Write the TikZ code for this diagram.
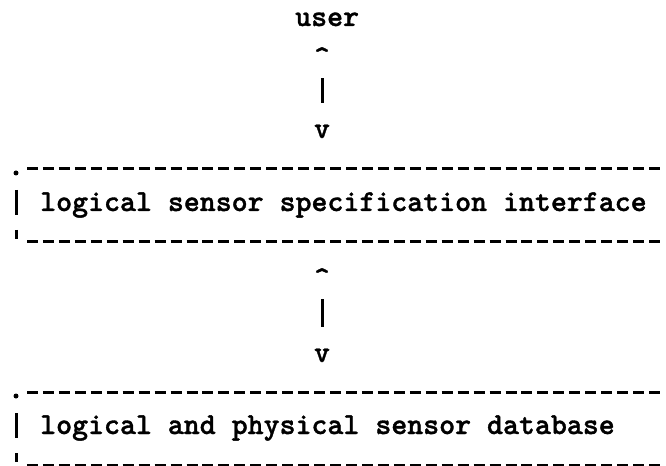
\documentclass[tikz,border=0pt]{standalone}
\usepackage{fontspec}
\usepackage{tikz}

\newfontfamily\typer{lmmonolt10-bold.otf}[FakeBold=1.2]

\tikzset{
  typed/.style={inner sep=0pt, font=\fontsize{30.4bp}{36bp}\selectfont\typer},
  rule/.style={line width=3bp, dash pattern=on 11bp off 4.95bp},
  bar/.style={line width=3bp},
}

\begin{document}
\begin{tikzpicture}[x=1bp, y=-1bp]
  \useasboundingbox (0,0) rectangle (666,466);

  % Define the macro.
  % 1st argument: Y of the dashed top rule of the layer.
  % 2nd argument: Name of the text node.
  % 3rd argument: Text typed inside the layer.
  \newcommand{\sensorLayer}[3]{
    \def\yy{#1} % top rule of current layer
    \node[typed, anchor=base west] (#2) at (40,\yy+42) {#3};
    \draw[rule] (27,\yy) -- (660,\yy);          % top rule
    \draw[rule] (27,\yy+73) -- (660,\yy+73);    % bottom rule
    \fill (16,\yy+4) circle (2.5bp);            % corner dot
    \draw[bar] (16,\yy+21) -- (16,\yy+46);      % left side
    \draw[bar] (16,\yy+61) -- (16,\yy+70);      % corner tick
  }

  % USER
  \node[typed, anchor=base west] (user) at (295,26) {user};

  % LAYERS
  \sensorLayer{169}{spec}{logical sensor specification interface}
  \sensorLayer{392}{db}{logical and physical sensor database}

  % LINKS
  \node[typed, anchor=north] (up1) at (322,47) {\textasciicircum};
  \node[typed, anchor=base] (down1) at (322,138) {v};
  \draw[bar, shorten <=12bp, shorten >=22bp] (up1.south) -- (down1.north);

  \node[typed, anchor=north] (up2) at (322,268) {\textasciicircum};
  \node[typed, anchor=base] (down2) at (322,362) {v};
  \draw[bar, shorten <=12bp, shorten >=22bp] (up2.south) -- (down2.north);

\end{tikzpicture}
\end{document}
